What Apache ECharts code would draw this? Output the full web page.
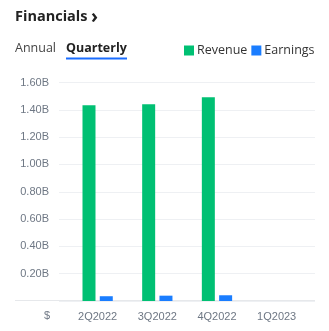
<!DOCTYPE html>
<html><head><meta charset="utf-8">
<script src="https://cdn.jsdelivr.net/npm/echarts@6/dist/echarts.min.js"></script>
<style>html,body{margin:0;padding:0;background:#fff}#c{width:329px;height:331px}</style>
</head><body><div id="c"></div>
<script>
const categories = ['2Q2022', '3Q2022', '4Q2022', '1Q2023'];
const revenue = [1.434e9, 1.441e9, 1.492e9, null];
const earnings = [0.035e9, 0.039e9, 0.042e9, null];
const yTicks = [0, 0.2e9, 0.4e9, 0.6e9, 0.8e9, 1.0e9, 1.2e9, 1.4e9, 1.6e9];

const labelColor = '#6e7784';
const chart = echarts.init(document.getElementById('c'), null, {renderer: 'canvas'});
chart.setOption({
  animation: false,
  legend: {
    orient: 'horizontal', left: 184, top: 44, width: 170, padding: 0,
    itemWidth: 10, itemHeight: 10, icon: 'rect', itemGap: 4,
    textStyle: {fontFamily: 'Open Sans', fontSize: 12.5, color: '#333', padding: [0, 0, 0, -2]},
    data: ['Revenue', 'Earnings']
  },
  grid: [
    {left: 59, right: 14, top: 82.5, bottom: 30},
    {left: 67.8, right: 22.5, top: 82.5, bottom: 30}
  ],
  xAxis: [
    {gridIndex: 0, type: 'category', data: categories, show: false},
    {gridIndex: 1, type: 'category', data: categories,
     axisLine: {show: false}, axisTick: {show: false},
     axisLabel: {color: labelColor, fontFamily: 'Arial', fontSize: 11, margin: 10}}
  ],
  yAxis: [
    {gridIndex: 0, type: 'value', min: yTicks[0], max: yTicks[yTicks.length - 1], interval: yTicks[1],
     axisLine: {show: false}, axisTick: {show: false},
     splitLine: {lineStyle: {color: '#eef0f3', width: 1}},
     axisLabel: {color: labelColor, fontFamily: 'Arial', fontSize: 11, margin: 10,
       formatter: v => v === 0 ? '' : (v / 1e9).toFixed(2) + 'B'}},
    {gridIndex: 1, type: 'value', min: yTicks[0], max: yTicks[yTicks.length - 1], interval: yTicks[1], show: false}
  ],
  series: [
    {name: 'Revenue', type: 'bar', xAxisIndex: 1, yAxisIndex: 1, data: revenue,
     barWidth: 13, barGap: '33%', itemStyle: {color: '#00c073'}},
    {name: 'Earnings', type: 'bar', xAxisIndex: 1, yAxisIndex: 1, data: earnings,
     barWidth: 13, barGap: '33%', itemStyle: {color: '#1a7dff'}}
  ],
  graphic: [
    {type: 'text', left: 15, top: 9, style: {text: 'Financials', font: 'bold 14.5px "Open Sans"', fill: '#222'}},
    {type: 'text', left: 91, top: 8, style: {text: '›', font: 'bold 19px "Open Sans"', fill: '#222'}},
    {type: 'text', left: 15, top: 42, style: {text: 'Annual', font: '12.5px "Open Sans"', fill: '#444'}},
    {type: 'text', left: 66, top: 42, style: {text: 'Quarterly', font: 'bold 12.5px "Open Sans"', fill: '#222'}},
    {type: 'rect', shape: {x: 66, y: 57.5, width: 61, height: 2}, style: {fill: '#1a6dff'}},
    {type: 'line', shape: {x1: 15, y1: 300.5, x2: 315, y2: 300.5}, style: {stroke: '#e6e8eb', lineWidth: 1}},
    {type: 'text', x: 47, y: 316, style: {text: '$', font: '11px Arial', fill: labelColor, align: 'center', verticalAlign: 'middle'}}
  ]
});
</script></body></html>
